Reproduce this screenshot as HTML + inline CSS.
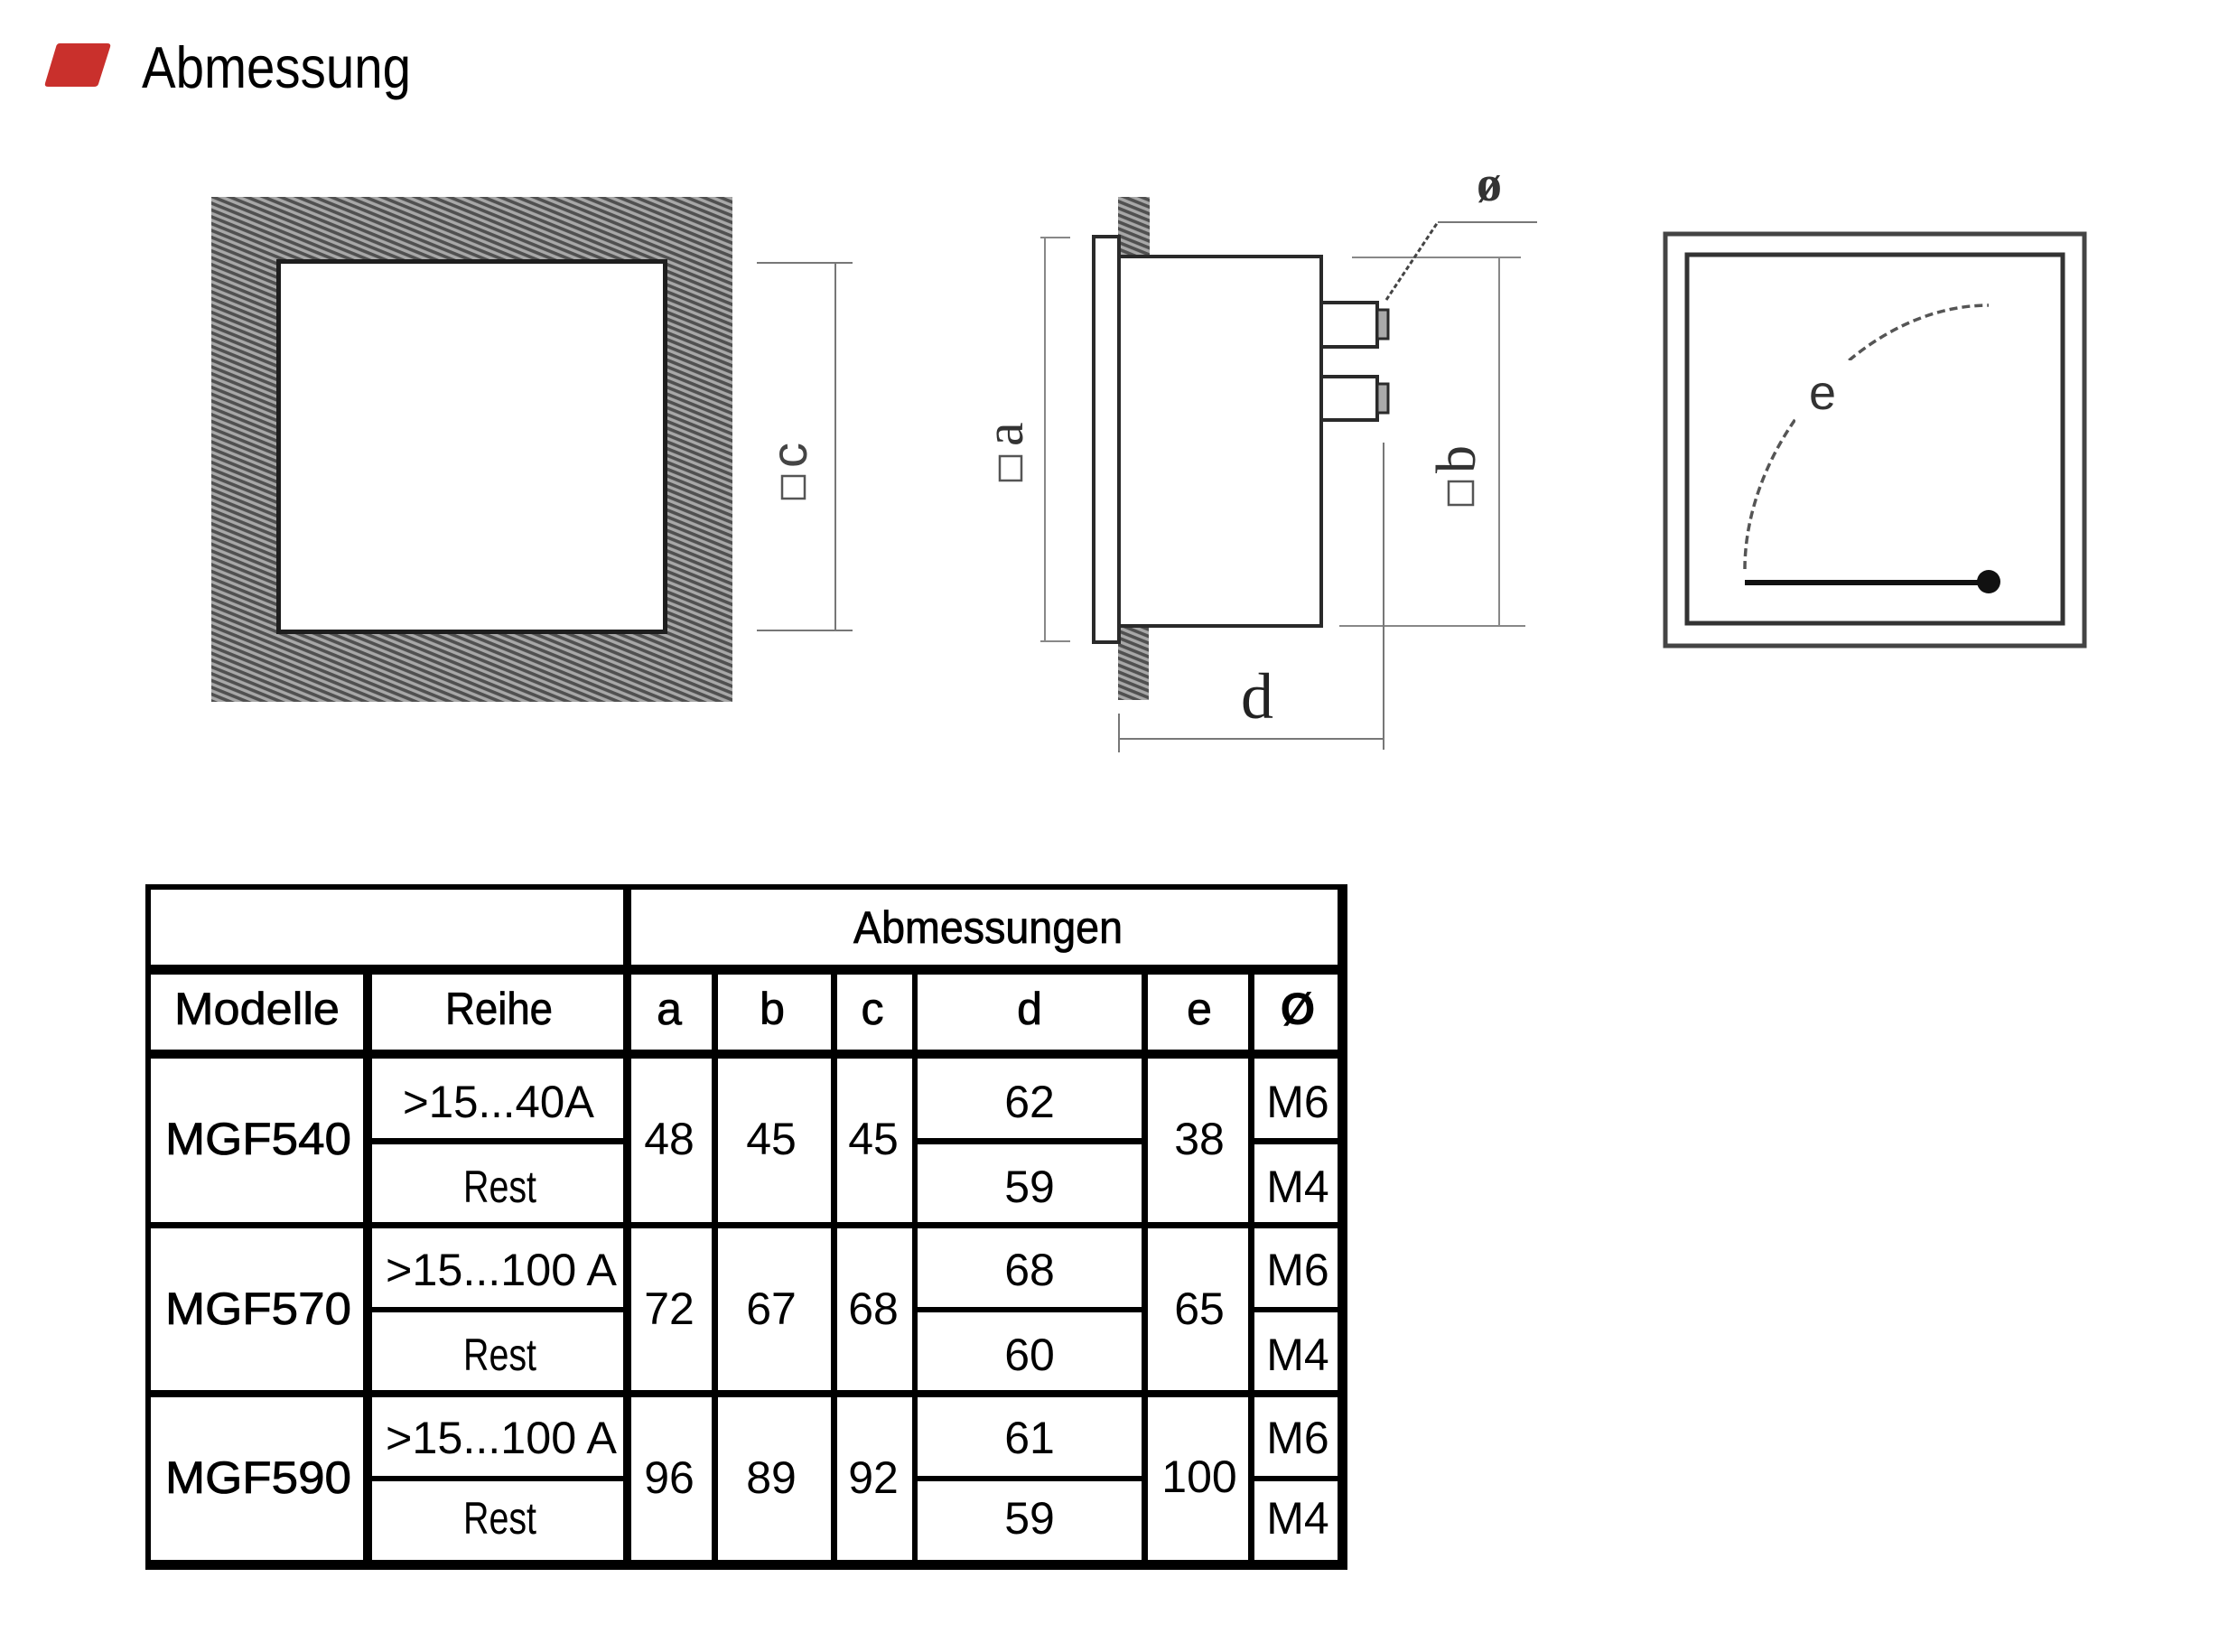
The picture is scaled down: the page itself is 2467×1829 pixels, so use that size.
<!DOCTYPE html>
<html>
<head>
<meta charset="utf-8">
<style>
html,body{margin:0;padding:0;background:#fff;}
svg{display:block;}
text{font-family:"Liberation Sans",sans-serif;}
.serif{font-family:"Liberation Serif",serif;}
</style>
</head>
<body>
<svg width="2467" height="1829" viewBox="0 0 2467 1829" xmlns="http://www.w3.org/2000/svg">
<defs>
  <pattern id="h" patternUnits="userSpaceOnUse" width="40" height="7" patternTransform="rotate(22)">
    <rect width="40" height="7" fill="#a8a8a8"/>
    <rect y="0" width="40" height="3.6" fill="#505050"/>
  </pattern>
</defs>
<rect width="2467" height="1829" fill="#fff"/>

<!-- Title -->
<path d="M66,48 L119,48 Q123,48 122,52 L109,93 Q108,96 104,96 L53,96 Q49,96 50,92 L62,52 Q63,48 66,48 Z" fill="#c9302c"/>
<text x="157" y="97" font-size="65" textLength="298" lengthAdjust="spacingAndGlyphs" fill="#000">Abmessung</text>

<!-- LEFT DRAWING: panel cutout -->
<rect x="234" y="218" width="577" height="559" fill="url(#h)"/>
<rect x="308.5" y="289.5" width="428" height="410" fill="#fff" stroke="#1e1e1e" stroke-width="5"/>
<!-- c dimension -->
<g stroke="#777" stroke-width="2" fill="none">
  <line x1="838" y1="291" x2="944" y2="291"/>
  <line x1="838" y1="698" x2="944" y2="698"/>
  <line x1="925" y1="291" x2="925" y2="698"/>
</g>
<rect x="866" y="527" width="25" height="25" fill="none" stroke="#555" stroke-width="2.5"/>
<text transform="translate(893,518) rotate(-90)" font-size="56" fill="#444">c</text>

<!-- MIDDLE DRAWING: side view -->
<rect x="1238" y="218" width="35" height="67" fill="url(#h)"/>
<rect x="1238" y="693" width="34" height="82" fill="url(#h)"/>
<rect x="1211" y="262" width="28" height="449" fill="#fff" stroke="#2a2a2a" stroke-width="4"/>
<rect x="1239" y="284" width="224" height="409" fill="#fff" stroke="#2a2a2a" stroke-width="4"/>
<!-- terminals -->
<rect x="1463" y="335" width="62" height="49" fill="#fff" stroke="#2a2a2a" stroke-width="4"/>
<rect x="1525" y="343" width="12" height="32" fill="#aaa" stroke="#2a2a2a" stroke-width="3"/>
<rect x="1463" y="417" width="62" height="48" fill="#fff" stroke="#2a2a2a" stroke-width="4"/>
<rect x="1525" y="425" width="12" height="32" fill="#aaa" stroke="#2a2a2a" stroke-width="3"/>
<!-- a dimension -->
<g stroke="#888" stroke-width="2" fill="none">
  <line x1="1152" y1="263" x2="1185" y2="263"/>
  <line x1="1152" y1="710" x2="1185" y2="710"/>
  <line x1="1157" y1="263" x2="1157" y2="710"/>
</g>
<rect x="1107" y="505" width="24" height="27" fill="none" stroke="#555" stroke-width="2.5"/>
<text class="serif" transform="translate(1132,494) rotate(-90)" font-size="60" fill="#333">a</text>
<!-- b dimension -->
<g stroke="#888" stroke-width="2" fill="none">
  <line x1="1497" y1="285" x2="1684" y2="285"/>
  <line x1="1483" y1="693" x2="1689" y2="693"/>
  <line x1="1660" y1="285" x2="1660" y2="693"/>
</g>
<rect x="1604" y="533" width="27" height="26" fill="none" stroke="#555" stroke-width="2.5"/>
<text class="serif" transform="translate(1633,524) rotate(-90)" font-size="62" fill="#333">b</text>
<!-- diameter leader -->
<line x1="1535" y1="332" x2="1592" y2="246" stroke="#444" stroke-width="3" stroke-dasharray="5 3"/>
<line x1="1592" y1="246" x2="1702" y2="246" stroke="#777" stroke-width="2"/>
<text class="serif" x="1649" y="222" font-size="56" font-weight="bold" text-anchor="middle" fill="#333">ø</text>
<!-- d dimension -->
<g stroke="#777" stroke-width="2" fill="none">
  <line x1="1239" y1="790" x2="1239" y2="833"/>
  <line x1="1532" y1="490" x2="1532" y2="830"/>
  <line x1="1239" y1="818" x2="1532" y2="818"/>
</g>
<text class="serif" x="1392" y="795" font-size="72" text-anchor="middle" fill="#222">d</text>

<!-- RIGHT DRAWING: front view -->
<rect x="1844" y="259" width="464" height="456" fill="#fff" stroke="#444" stroke-width="5"/>
<rect x="1868" y="282" width="416" height="408" fill="#fff" stroke="#333" stroke-width="5"/>
<path d="M1932,630 C1932,490 2060,338 2202,338" fill="none" stroke="#555" stroke-width="3.5" stroke-dasharray="9 5"/>
<rect x="1988" y="399" width="64" height="68" fill="#fff"/>
<text x="2003" y="453" font-size="54" fill="#333">e</text>
<line x1="1932" y1="645" x2="2200" y2="645" stroke="#111" stroke-width="6"/>
<circle cx="2202" cy="644" r="13" fill="#111"/>

<!-- TABLE -->
<g fill="#000">
  <rect x="161" y="979" width="1331" height="6"/>
  <rect x="161" y="979" width="6" height="759"/>
  <rect x="1481" y="979" width="11" height="759"/>
  <rect x="161" y="1727" width="1331" height="11"/>
  <rect x="161" y="1068" width="1331" height="11"/>
  <rect x="161" y="1162" width="1331" height="10"/>
  <rect x="161" y="1353" width="1331" height="7"/>
  <rect x="161" y="1539" width="1331" height="8"/>
  <rect x="402" y="1068" width="10" height="670"/>
  <rect x="690" y="979" width="9" height="759"/>
  <rect x="788" y="1068" width="7" height="670"/>
  <rect x="920" y="1068" width="7" height="670"/>
  <rect x="1010" y="1068" width="6" height="670"/>
  <rect x="1264" y="1068" width="7" height="670"/>
  <rect x="1382" y="1068" width="7" height="670"/>
  <!-- sub row lines -->
  <rect x="402" y="1260" width="297" height="7"/>
  <rect x="1010" y="1260" width="261" height="7"/>
  <rect x="1382" y="1260" width="110" height="7"/>
  <rect x="402" y="1447" width="297" height="6"/>
  <rect x="1010" y="1447" width="261" height="6"/>
  <rect x="1382" y="1447" width="110" height="6"/>
  <rect x="402" y="1634" width="297" height="6"/>
  <rect x="1010" y="1634" width="261" height="6"/>
  <rect x="1382" y="1634" width="110" height="6"/>
</g>

<g font-size="50" fill="#000" stroke="#000" stroke-width="0.8">
  <text x="945" y="1044" textLength="298" lengthAdjust="spacingAndGlyphs">Abmessungen</text>
  <text x="193" y="1134" textLength="183" lengthAdjust="spacingAndGlyphs">Modelle</text>
  <text x="493" y="1134" textLength="119" lengthAdjust="spacingAndGlyphs">Reihe</text>
  <text x="741" y="1134" text-anchor="middle">a</text>
  <text x="855" y="1134" text-anchor="middle">b</text>
  <text x="966" y="1134" text-anchor="middle">c</text>
  <text x="1140" y="1134" text-anchor="middle">d</text>
  <text x="1328" y="1134" text-anchor="middle">e</text>
  <text x="1437" y="1134" text-anchor="middle" font-weight="bold" stroke-width="0">Ø</text>
  <text x="183" y="1278" textLength="206" lengthAdjust="spacingAndGlyphs">MGF540</text>
  <text x="183" y="1466" textLength="206" lengthAdjust="spacingAndGlyphs">MGF570</text>
  <text x="183" y="1653" textLength="206" lengthAdjust="spacingAndGlyphs">MGF590</text>
</g>

<g font-size="50" fill="#000">
  <!-- row 1 -->
  <text x="446" y="1237" textLength="212" lengthAdjust="spacingAndGlyphs">&gt;15...40A</text>
  <text x="513" y="1331" textLength="81" lengthAdjust="spacingAndGlyphs">Rest</text>
  <text x="741" y="1278" text-anchor="middle">48</text>
  <text x="854" y="1278" text-anchor="middle">45</text>
  <text x="967" y="1278" text-anchor="middle">45</text>
  <text x="1140" y="1237" text-anchor="middle">62</text>
  <text x="1140" y="1331" text-anchor="middle">59</text>
  <text x="1328" y="1278" text-anchor="middle">38</text>
  <text x="1437" y="1237" text-anchor="middle">M6</text>
  <text x="1437" y="1331" text-anchor="middle">M4</text>
  <!-- row 2 -->
  <text x="427" y="1423" textLength="256" lengthAdjust="spacingAndGlyphs">&gt;15...100 A</text>
  <text x="513" y="1517" textLength="81" lengthAdjust="spacingAndGlyphs">Rest</text>
  <text x="741" y="1466" text-anchor="middle">72</text>
  <text x="854" y="1466" text-anchor="middle">67</text>
  <text x="967" y="1466" text-anchor="middle">68</text>
  <text x="1140" y="1423" text-anchor="middle">68</text>
  <text x="1140" y="1517" text-anchor="middle">60</text>
  <text x="1328" y="1466" text-anchor="middle">65</text>
  <text x="1437" y="1423" text-anchor="middle">M6</text>
  <text x="1437" y="1517" text-anchor="middle">M4</text>
  <!-- row 3 -->
  <text x="427" y="1609" textLength="256" lengthAdjust="spacingAndGlyphs">&gt;15...100 A</text>
  <text x="513" y="1698" textLength="81" lengthAdjust="spacingAndGlyphs">Rest</text>
  <text x="741" y="1653" text-anchor="middle">96</text>
  <text x="854" y="1653" text-anchor="middle">89</text>
  <text x="967" y="1653" text-anchor="middle">92</text>
  <text x="1140" y="1609" text-anchor="middle">61</text>
  <text x="1140" y="1698" text-anchor="middle">59</text>
  <text x="1328" y="1652" text-anchor="middle">100</text>
  <text x="1437" y="1609" text-anchor="middle">M6</text>
  <text x="1437" y="1698" text-anchor="middle">M4</text>
</g>
</svg>
</body>
</html>
